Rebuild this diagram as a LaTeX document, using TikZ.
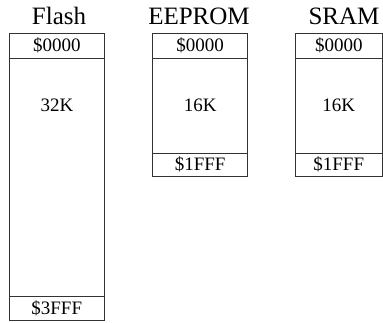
\documentclass[tikz,border=0pt]{standalone}
\usepackage{fontspec}
\setmainfont{Liberation Serif}
\begin{document}
\begin{tikzpicture}[x=1pt,y=-1pt,
  cell/.style={draw=black!80,line width=0.9pt,inner sep=0pt,outer sep=0pt,anchor=north west,
    font=\fontsize{19}{19}\selectfont},
  memtitle/.style={font=\fontsize{25}{25}\selectfont,anchor=base,inner sep=0pt},
  size/.style={font=\fontsize{19}{19}\selectfont,anchor=base,inner sep=0pt}]
\useasboundingbox (0,0) rectangle (383,323);
% titles
\node[memtitle] (tflash) at (59,25) {Flash};
\node[memtitle] (teeprom) at (199,25) {EEPROM};
\node[memtitle] (tsram) at (344,25) {SRAM};
% Flash
\node[cell,minimum width=95.5pt,minimum height=25pt] (f0) at (9,33) {\$0000};
\node[cell,minimum width=95.5pt,minimum height=238pt] (f1) at (f0.south west) {};
\node[cell,minimum width=95.5pt,minimum height=24pt] (f2) at (f1.south west) {\$3FFF};
\node[size] (f1t) at (57,112) {32K};
% EEPROM
\node[cell,minimum width=95pt,minimum height=25pt] (e0) at (152.7,33) {\$0000};
\node[cell,minimum width=95pt,minimum height=95pt] (e1) at (e0.south west) {};
\node[cell,minimum width=95pt,minimum height=23pt] (e2) at (e1.south west) {\$1FFF};
\node[size] (e1t) at (e1.center) [yshift=-6.5pt] {16K};
% SRAM
\node[cell,minimum width=86.5pt,minimum height=25pt] (s0) at (295.5,33) {\$0000};
\node[cell,minimum width=86.5pt,minimum height=95pt] (s1) at (s0.south west) {};
\node[cell,minimum width=86.5pt,minimum height=23pt] (s2) at (s1.south west) {\$1FFF};
\node[size] (s1t) at (s1.center) [yshift=-6.5pt] {16K};
\end{tikzpicture}
\end{document}
